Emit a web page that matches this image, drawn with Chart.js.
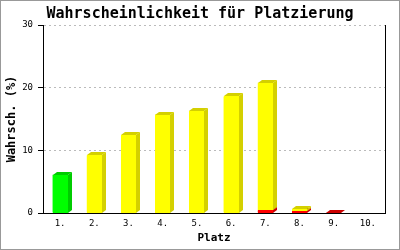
<!DOCTYPE html>
<html>
<head>
<meta charset="utf-8">
<script src="https://cdn.jsdelivr.net/npm/chart.js@4/dist/chart.umd.min.js"></script>
<style>
  body { margin: 0; background: #fff; }
  canvas { display: block; }
</style>
</head>
<body>
<canvas id="platzChart" width="400" height="250"></canvas>
<script>
// Daten
const places = ["1.", "2.", "3.", "4.", "5.", "6.", "7.", "8.", "9.", "10."];
const redValues = [0, 0, 0, 0, 0, 0, 0.4, 0.3, 0.05, 0];
const mainValues = [6.1, 9.2, 12.4, 15.7, 16.3, 18.6, 20.4, 0.3, 0, 0];
const yTicks = [0, 10, 20, 30];

const mono = "'DejaVu Sans Mono', 'Liberation Mono', monospace";

// Farben: Front / Seite
const mainFront = ["#00ff00", "#ffff00", "#ffff00", "#ffff00", "#ffff00", "#ffff00", "#ffff00", "#ffff00", "#ffff00", "#ffff00"];
const mainSide = ["#00cc00", "#d4d000", "#d4d000", "#d4d000", "#d4d000", "#d4d000", "#d4d000", "#d4d000", "#d4d000", "#d4d000"];
const redFront = "#ff0000";
const redSide = "#cc0000";

// 3D-Effekt: Seite + Deckel fuer jeden Balken, dann Front neu zeichnen
const depthPlugin = {
  id: "depth",
  afterDatasetsDraw(chart) {
    const ctx = chart.ctx;
    const dx = 4, dy = 3;
    ctx.save();
    chart.data.datasets.forEach((ds, di) => {
      const meta = chart.getDatasetMeta(di);
      meta.data.forEach((bar, i) => {
        const v = ds.data[i];
        if (!v) return;
        const p = bar.getProps(["x", "y", "base", "width"], true);
        const left = Math.round(p.x - p.width / 2);
        const right = Math.round(p.x + p.width / 2);
        const top = Math.round(Math.min(p.y, p.base));
        const bottom = Math.round(Math.max(p.y, p.base));
        const front = Array.isArray(ds.backgroundColor) ? ds.backgroundColor[i] : ds.backgroundColor;
        const side = Array.isArray(ds.sideColor) ? ds.sideColor[i] : ds.sideColor;
        ctx.fillStyle = side;
        // Seite
        ctx.beginPath();
        ctx.moveTo(right, bottom);
        ctx.lineTo(right, top);
        ctx.lineTo(right + dx, top - dy);
        ctx.lineTo(right + dx, bottom - dy);
        ctx.closePath();
        ctx.fill();
        // Deckel
        ctx.beginPath();
        ctx.moveTo(left, top);
        ctx.lineTo(left + dx, top - dy);
        ctx.lineTo(right + dx, top - dy);
        ctx.lineTo(right, top);
        ctx.closePath();
        ctx.fill();
        // Front
        ctx.fillStyle = front;
        ctx.fillRect(left, top, right - left, bottom - top);
      });
    });
    ctx.restore();
  },
  afterDraw(chart) {
    const ctx = chart.ctx;
    ctx.save();
    ctx.strokeStyle = "#999";
    ctx.lineWidth = 1;
    ctx.strokeRect(0.5, 0.5, chart.width - 1, chart.height - 1);
    ctx.restore();
  }
};

new Chart(document.getElementById("platzChart"), {
  type: "bar",
  data: {
    labels: places,
    datasets: [
      {
        data: redValues,
        backgroundColor: redFront,
        sideColor: redSide,
        borderWidth: 0
      },
      {
        data: mainValues,
        backgroundColor: mainFront,
        sideColor: mainSide,
        borderWidth: 0
      }
    ]
  },
  options: {
    responsive: false,
    animation: false,
    layout: { padding: 0 },
    datasets: {
      bar: { barPercentage: 0.44, categoryPercentage: 1 }
    },
    plugins: {
      legend: { display: false },
      tooltip: { enabled: false },
      title: {
        display: true,
        text: "Wahrscheinlichkeit für Platzierung",
        color: "#000",
        font: { family: mono, size: 15, weight: "bold", lineHeight: 1.2 },
        padding: { top: 5, bottom: 2 }
      }
    },
    scales: {
      x: {
        stacked: true,
        grid: { display: false, drawTicks: false },
        border: { display: true, color: "#000", width: 1 },
        ticks: { color: "#000", font: { family: mono, size: 9 }, padding: 5, maxRotation: 0 },
        title: {
          display: true,
          text: "Platz",
          color: "#000",
          font: { family: mono, size: 11, weight: "bold" },
          padding: { top: 0, bottom: 5 }
        },
        afterFit(scale) { scale.height = 37; }
      },
      y: {
        stacked: true,
        min: 0,
        max: 30,
        afterBuildTicks(scale) { scale.ticks = yTicks.map(v => ({ value: v })); },
        grid: {
          color: "#bbb",
          tickColor: "#000",
          tickLength: 5,
          tickBorderDash: [],
          lineWidth: 1
        },
        border: { display: true, color: "#000", width: 1, dash: [2, 3] },
        ticks: { color: "#000", font: { family: mono, size: 9 }, padding: 5 },
        title: {
          display: true,
          text: "Wahrsch. (%)",
          color: "#000",
          font: { family: mono, size: 12, weight: "bold" },
          padding: { top: 5, bottom: 0 }
        },
        afterFit(scale) { scale.width = 43; }
      },
      y2: {
        position: "right",
        min: 0,
        max: 30,
        grid: { display: false, drawTicks: false },
        border: { display: true, color: "#000", width: 1 },
        ticks: { display: false },
        afterFit(scale) { scale.width = 15; }
      }
    }
  },
  plugins: [depthPlugin]
});
</script>
</body>
</html>
